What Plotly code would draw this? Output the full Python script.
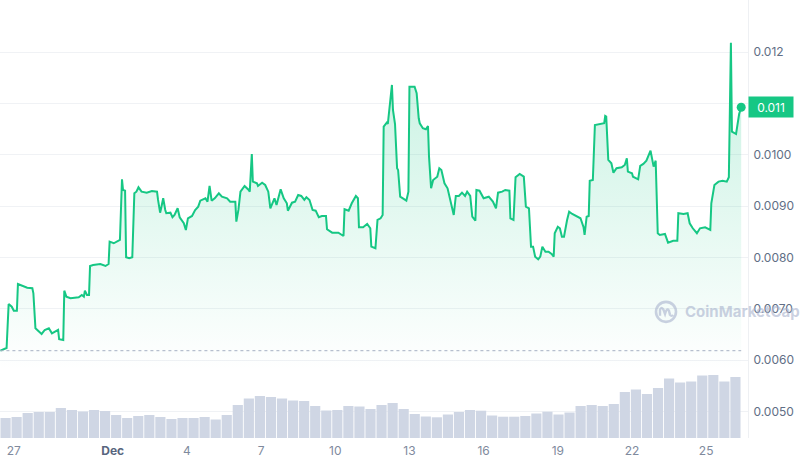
import plotly.graph_objects as go
import pandas as pd

# ---- price series (USD) ----
price_times = [
    "2023-11-26 11:00", "2023-11-26 17:00", "2023-11-26 19:00", "2023-11-26 22:00", "2023-11-27 00:00",
    "2023-11-27 03:00", "2023-11-27 04:00", "2023-11-27 08:00", "2023-11-27 13:00", "2023-11-27 18:00",
    "2023-11-27 19:00", "2023-11-27 21:00", "2023-11-28 00:00", "2023-11-28 03:00", "2023-11-28 06:00",
    "2023-11-28 10:00", "2023-11-28 13:00", "2023-11-28 16:00", "2023-11-28 19:00", "2023-11-28 20:00",
    "2023-11-29 00:00", "2023-11-29 01:00", "2023-11-29 03:00", "2023-11-29 07:00", "2023-11-29 15:00",
    "2023-11-29 18:00", "2023-11-29 20:00", "2023-11-29 21:00", "2023-11-29 23:00", "2023-11-30 01:00",
    "2023-11-30 02:00", "2023-11-30 05:00", "2023-11-30 12:00", "2023-11-30 17:00", "2023-11-30 20:00",
    "2023-11-30 21:00", "2023-12-01 01:00", "2023-12-01 07:00", "2023-12-01 09:00", "2023-12-01 10:00",
    "2023-12-01 12:00", "2023-12-01 13:00", "2023-12-01 16:00", "2023-12-01 19:00", "2023-12-01 21:00",
    "2023-12-01 23:00", "2023-12-02 01:00", "2023-12-02 04:00", "2023-12-02 09:00", "2023-12-02 14:00",
    "2023-12-02 19:00", "2023-12-02 20:00", "2023-12-02 22:00", "2023-12-02 23:00", "2023-12-03 01:00",
    "2023-12-03 03:00", "2023-12-03 04:00", "2023-12-03 08:00", "2023-12-03 10:00", "2023-12-03 12:00",
    "2023-12-03 15:00", "2023-12-03 17:00", "2023-12-03 21:00", "2023-12-03 23:00", "2023-12-04 01:00",
    "2023-12-04 05:00", "2023-12-04 08:00", "2023-12-04 11:00", "2023-12-04 13:00", "2023-12-04 18:00",
    "2023-12-04 20:00", "2023-12-04 22:00", "2023-12-05 00:00", "2023-12-05 03:00", "2023-12-05 07:00",
    "2023-12-05 10:00", "2023-12-05 15:00", "2023-12-05 18:00", "2023-12-05 23:00", "2023-12-06 00:00",
    "2023-12-06 02:00", "2023-12-06 04:00", "2023-12-06 08:00", "2023-12-06 12:00", "2023-12-06 13:00",
    "2023-12-06 15:00", "2023-12-06 16:00", "2023-12-06 20:00", "2023-12-06 21:00", "2023-12-07 01:00",
    "2023-12-07 04:00", "2023-12-07 07:00", "2023-12-07 09:00", "2023-12-07 13:00", "2023-12-07 15:00",
    "2023-12-07 19:00", "2023-12-07 22:00", "2023-12-08 01:00", "2023-12-08 02:00", "2023-12-08 06:00",
    "2023-12-08 09:00", "2023-12-08 12:00", "2023-12-08 15:00", "2023-12-08 18:00", "2023-12-08 20:00",
    "2023-12-08 23:00", "2023-12-09 02:00", "2023-12-09 05:00", "2023-12-09 08:00", "2023-12-09 11:00",
    "2023-12-09 15:00", "2023-12-09 16:00", "2023-12-09 21:00", "2023-12-10 03:00", "2023-12-10 08:00",
    "2023-12-10 09:00", "2023-12-10 13:00", "2023-12-10 16:00", "2023-12-10 20:00", "2023-12-10 22:00",
    "2023-12-10 23:00", "2023-12-11 03:00", "2023-12-11 07:00", "2023-12-11 10:00", "2023-12-11 11:00",
    "2023-12-11 15:00", "2023-12-11 17:00", "2023-12-11 20:00", "2023-12-11 22:00", "2023-12-11 23:00",
    "2023-12-12 02:00", "2023-12-12 03:00", "2023-12-12 06:00", "2023-12-12 07:00", "2023-12-12 08:00",
    "2023-12-12 10:00", "2023-12-12 12:00", "2023-12-12 13:00", "2023-12-12 15:00", "2023-12-12 18:00",
    "2023-12-12 21:00", "2023-12-12 23:00", "2023-12-13 00:00", "2023-12-13 05:00", "2023-12-13 07:00",
    "2023-12-13 09:00", "2023-12-13 10:00", "2023-12-13 13:00", "2023-12-13 16:00", "2023-12-13 18:00",
    "2023-12-13 19:00", "2023-12-13 21:00", "2023-12-13 23:00", "2023-12-14 03:00", "2023-12-14 05:00",
    "2023-12-14 07:00", "2023-12-14 10:00", "2023-12-14 13:00", "2023-12-14 16:00", "2023-12-14 19:00",
    "2023-12-14 21:00", "2023-12-15 00:00", "2023-12-15 03:00", "2023-12-15 06:00", "2023-12-15 08:00",
    "2023-12-15 11:00", "2023-12-15 13:00", "2023-12-15 16:00", "2023-12-15 17:00", "2023-12-15 20:00",
    "2023-12-16 00:00", "2023-12-16 03:00", "2023-12-16 05:00", "2023-12-16 09:00", "2023-12-16 12:00",
    "2023-12-16 14:00", "2023-12-16 18:00", "2023-12-16 21:00", "2023-12-17 01:00", "2023-12-17 02:00",
    "2023-12-17 05:00", "2023-12-17 07:00", "2023-12-17 11:00", "2023-12-17 15:00", "2023-12-17 17:00",
    "2023-12-17 20:00", "2023-12-17 22:00", "2023-12-18 00:00", "2023-12-18 02:00", "2023-12-18 05:00",
    "2023-12-18 07:00", "2023-12-18 09:00", "2023-12-18 12:00", "2023-12-18 15:00", "2023-12-18 18:00",
    "2023-12-18 20:00", "2023-12-18 21:00", "2023-12-19 00:00", "2023-12-19 02:00", "2023-12-19 04:00",
    "2023-12-19 06:00", "2023-12-19 09:00", "2023-12-19 11:00", "2023-12-19 14:00", "2023-12-19 18:00",
    "2023-12-19 22:00", "2023-12-20 01:00", "2023-12-20 02:00", "2023-12-20 04:00", "2023-12-20 06:00",
    "2023-12-20 07:00", "2023-12-20 10:00", "2023-12-20 12:00", "2023-12-20 17:00", "2023-12-20 21:00",
    "2023-12-20 22:00", "2023-12-20 23:00", "2023-12-21 01:00", "2023-12-21 04:00", "2023-12-21 06:00",
    "2023-12-21 09:00", "2023-12-21 14:00", "2023-12-21 17:00", "2023-12-21 19:00", "2023-12-21 20:00",
    "2023-12-22 00:00", "2023-12-22 01:00", "2023-12-22 06:00", "2023-12-22 08:00", "2023-12-22 11:00",
    "2023-12-22 14:00", "2023-12-22 18:00", "2023-12-22 21:00", "2023-12-22 23:00", "2023-12-23 01:00",
    "2023-12-23 03:00", "2023-12-23 08:00", "2023-12-23 11:00", "2023-12-23 16:00", "2023-12-23 20:00",
    "2023-12-23 21:00", "2023-12-24 02:00", "2023-12-24 06:00", "2023-12-24 08:00", "2023-12-24 11:00",
    "2023-12-24 15:00", "2023-12-24 18:00", "2023-12-24 23:00", "2023-12-25 04:00", "2023-12-25 05:00",
    "2023-12-25 08:00", "2023-12-25 12:00", "2023-12-25 16:00", "2023-12-25 20:00", "2023-12-25 22:00",
    "2023-12-26 00:00", "2023-12-26 01:00", "2023-12-26 05:00", "2023-12-26 07:00", "2023-12-26 08:00",
    "2023-12-26 10:00",
]
price_values = [
    0.006183, 0.006236, 0.007094, 0.007041, 0.006963,
    0.006963, 0.007483, 0.007444, 0.007411, 0.007400,
    0.007302, 0.006620, 0.006554, 0.006509, 0.006587,
    0.006620, 0.006522, 0.006554, 0.006587, 0.006406,
    0.006392, 0.007353, 0.007236, 0.007205, 0.007224,
    0.007269, 0.007236, 0.007353, 0.007269, 0.007269,
    0.007834, 0.007854, 0.007873, 0.007834, 0.007873,
    0.008308, 0.008277, 0.008341, 0.009524, 0.009316,
    0.009302, 0.008004, 0.007984, 0.008004, 0.009251,
    0.009283, 0.009368, 0.009283, 0.009263, 0.009296,
    0.009283, 0.009121, 0.008873, 0.008959, 0.009154,
    0.008926, 0.008862, 0.008873, 0.008784, 0.008828,
    0.008959, 0.008784, 0.008667, 0.008536, 0.008764,
    0.008809, 0.008926, 0.008990, 0.009107, 0.009154,
    0.009088, 0.009394, 0.009107, 0.009154, 0.009251,
    0.009185, 0.009154, 0.009088, 0.009088, 0.008698,
    0.008926, 0.009283, 0.009394, 0.009316, 0.009283,
    0.010018, 0.009478, 0.009446, 0.009394, 0.009458,
    0.009413, 0.009283, 0.008959, 0.009154, 0.009023,
    0.009329, 0.009154, 0.009057, 0.008912, 0.009068,
    0.009088, 0.009218, 0.009199, 0.009121, 0.009174,
    0.009121, 0.008926, 0.008912, 0.008784, 0.008809,
    0.008809, 0.008550, 0.008483, 0.008483, 0.008419,
    0.008940, 0.008912, 0.009057, 0.009199, 0.009154,
    0.008589, 0.008589, 0.008653, 0.008569, 0.008211,
    0.008179, 0.008731, 0.008764, 0.008828, 0.010550,
    0.010628, 0.010602, 0.011168, 0.011363, 0.010875,
    0.010602, 0.009739, 0.009706, 0.009185, 0.009154,
    0.009107, 0.009283, 0.011329, 0.011329, 0.011201,
    0.010713, 0.010616, 0.010519, 0.010499, 0.010563,
    0.009965, 0.009349, 0.009511, 0.009575, 0.009739,
    0.009706, 0.009446, 0.009349, 0.009057, 0.008828,
    0.009199, 0.009199, 0.009263, 0.009199, 0.009283,
    0.009199, 0.008795, 0.008717, 0.009316, 0.009302,
    0.009154, 0.009174, 0.009185, 0.009088, 0.008959,
    0.009263, 0.009283, 0.009316, 0.009302, 0.008764,
    0.008731, 0.009563, 0.009628, 0.009575, 0.008990,
    0.008959, 0.008211, 0.008211, 0.008016, 0.007965,
    0.008016, 0.008211, 0.008113, 0.008113, 0.008068,
    0.008016, 0.008472, 0.008600, 0.008569, 0.008405,
    0.008405, 0.008731, 0.008893, 0.008848, 0.008809,
    0.008764, 0.008589, 0.008439, 0.008795, 0.008809,
    0.009497, 0.009511, 0.010583, 0.010602, 0.010616,
    0.010758, 0.010745, 0.009901, 0.009836, 0.009653,
    0.009739, 0.009758, 0.009803, 0.009934, 0.009673,
    0.009641, 0.009575, 0.009524, 0.009784, 0.009823,
    0.009887, 0.010082, 0.009770, 0.009887, 0.008472,
    0.008439, 0.008458, 0.008289, 0.008327, 0.008327,
    0.008862, 0.008848, 0.008862, 0.008667, 0.008569,
    0.008472, 0.008569, 0.008589, 0.008536, 0.009057,
    0.009413, 0.009478, 0.009497, 0.009478, 0.009563,
    0.012187, 0.010452, 0.010407, 0.010745, 0.010797,
    0.010928,
]

# ---- volume series (relative units) ----
volume_start = "2023-11-26 16:00"
volume_step = "644min"
volume_values = [
    2.0, 2.1, 2.5, 2.6, 2.6, 3.0, 2.8, 2.65, 2.8, 2.7,
    2.3, 2.0, 2.2, 2.3, 2.1, 1.9, 2.0, 2.0, 2.1, 1.85,
    2.3, 3.3, 3.95, 4.2, 4.1, 3.95, 3.75, 3.7, 3.2, 2.75,
    2.8, 3.2, 3.15, 2.9, 3.3, 3.5, 2.9, 2.4, 2.15, 2.07,
    2.35, 2.6, 2.8, 2.73, 2.25, 2.13, 2.13, 2.2, 2.45, 2.63,
    2.35, 2.55, 3.2, 3.3, 3.2, 3.4, 4.6, 4.85, 4.4, 5.0,
    5.95, 5.55, 5.65, 6.25, 6.3, 5.65, 6.1,
]

# ---- axis ticks ----
x_tick_vals = ["2023-11-27", "2023-12-01", "2023-12-04", "2023-12-07", "2023-12-10",
               "2023-12-13", "2023-12-16", "2023-12-19", "2023-12-22", "2023-12-25"]
x_tick_text = ["27", "<b><span style='color:#58667e'>Dec</span></b>", "4", "7", "10",
               "13", "16", "19", "22", "25"]
y_tick_vals = [0.005, 0.006, 0.007, 0.008, 0.009, 0.010, 0.011, 0.012]
y_tick_text = ["0.0050", "0.0060", "0.0070", "0.0080", "0.0090", "0.0100", "", "0.012"]
last_label = "0.011"
watermark = "CoinMarketCap"

GREEN = "#16c784"
WM = "rgba(168,178,205,0.6)"
volume_times = pd.date_range(volume_start, periods=len(volume_values), freq=volume_step)

fig = go.Figure()
fig.add_trace(go.Bar(
    x=volume_times, y=volume_values, yaxis="y2",
    marker=dict(color="#cfd6e4", line=dict(width=0)),
    hoverinfo="skip", showlegend=False,
))
fig.add_trace(go.Scatter(
    x=price_times, y=price_values, mode="lines",
    line=dict(color=GREEN, width=2),
    fill="tozeroy",
    fillgradient=dict(type="vertical", start=0.0058, stop=0.0120,
                      colorscale=[[0, "rgba(22,199,132,0)"], [1, "rgba(22,199,132,0.24)"]]),
    showlegend=False,
))
fig.add_trace(go.Scatter(
    x=[price_times[-1]], y=[price_values[-1]], mode="markers",
    marker=dict(color=GREEN, size=9), showlegend=False,
))

# dotted open-price reference line
fig.add_shape(type="line", xref="x", yref="y",
              x0=price_times[0], x1=price_times[-1],
              y0=price_values[0], y1=price_values[0],
              line=dict(color="#a6b0c3", width=1, dash="dot"))

# current price label
fig.add_annotation(xref="paper", yref="y", x=1.0, y=price_values[-1],
                   xanchor="left", yanchor="middle", text=last_label,
                   showarrow=False, bgcolor=GREEN, width=42, height=18,
                   font=dict(family="Inter", size=12, color="white"))

# watermark
fig.add_annotation(xref="paper", yref="y", x=683 / 748, y=0.00694,
                   xanchor="left", yanchor="middle", text="<b>" + watermark + "</b>",
                   showarrow=False,
                   font=dict(family="Inter", size=15, color=WM))
fig.add_shape(type="circle", xref="paper", yref="y",
              xsizemode="pixel", ysizemode="pixel",
              xanchor=666 / 748, yanchor=0.00694,
              x0=-10, x1=10, y0=-10, y1=10,
              line=dict(color=WM, width=2.6))
fig.add_shape(type="path", xref="paper", yref="y",
              xsizemode="pixel", ysizemode="pixel",
              xanchor=666 / 748, yanchor=0.00694,
              path="M -6,-4 L -6,2 Q -4.5,6 -2.5,2 L -1,-2 Q 1,5 3,1 L 4,-3 Q 5.5,-5 7,-3",
              line=dict(color=WM, width=2.4))

fig.update_layout(
    width=800, height=463,
    margin=dict(l=0, r=52, t=0, b=25, autoexpand=False),
    paper_bgcolor="white", plot_bgcolor="white",
    bargap=0.08,
    font=dict(family="Inter", size=12, color="#808a9d"),
    xaxis=dict(
        type="date", automargin=False,
        range=["2023-11-26 10:36", "2023-12-26 16:36"],
        tickvals=x_tick_vals, ticktext=x_tick_text,
        showgrid=False, zeroline=False, showline=False,
        ticks="", ticklabelstandoff=4,
        tickfont=dict(size=12, color="#808a9d"),
    ),
    yaxis=dict(
        side="right", automargin=False,
        range=[0.004481, 0.013019],
        tickvals=y_tick_vals, ticktext=y_tick_text,
        showgrid=True, gridcolor="#f0f2f5", gridwidth=1,
        zeroline=False, showline=True, linecolor="#eef0f3", linewidth=1,
        ticks="", ticklabelstandoff=2,
        tickfont=dict(size=12, color="#616e85"),
    ),
    yaxis2=dict(
        overlaying="y", range=[0, 43.8], visible=False,
    ),
)

fig.write_html("out.html", config={"displayModeBar": False},
               post_script="document.body.style.margin='0';")
